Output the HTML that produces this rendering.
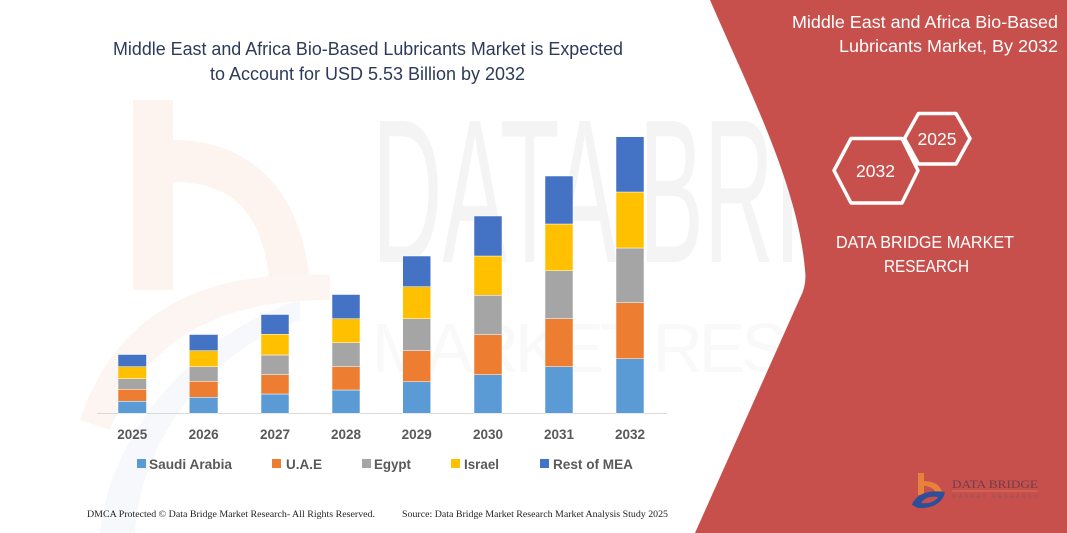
<!DOCTYPE html>
<html>
<head>
<meta charset="utf-8">
<style>
html,body{margin:0;padding:0;background:#fff;}
svg{display:block;}
</style>
</head>
<body>
<svg width="1067" height="533" viewBox="0 0 1067 533" xmlns="http://www.w3.org/2000/svg">
  <rect x="0" y="0" width="1067" height="533" fill="#ffffff"/>

  <!-- faint watermark: orange b logo -->
  <g>
    <rect x="133" y="100" width="40" height="190" fill="#fdf4f0"/>
    <path d="M173,140 C250,140 305,190 310,290 L270,290 C265,215 235,182 173,182 Z" fill="#fdf4f0"/>
    <path d="M80,420 C120,300 220,270 330,275 L330,300 C230,300 150,330 110,430 Z" fill="#fcf5f2"/>
    <path d="M100,533 C110,430 200,330 300,300 L300,320 C210,350 140,440 135,533 Z" fill="#f7f8fb"/>
  </g>
  <!-- faint watermark: DATA BRIDGE letters -->
  <text x="372" y="262" font-family="Liberation Sans, sans-serif" font-size="205" fill="#f4f4f4" textLength="640" lengthAdjust="spacingAndGlyphs">DATA BRIDGE</text>
  <text x="372" y="372" font-family="Liberation Sans, sans-serif" font-size="70" fill="#f9f9f9" textLength="640" lengthAdjust="spacing">MARKET RESEARCH</text>

  <!-- red panel -->
  <path d="M710,0 C748,88 798,185 805,270 Q807,285 800,298 L695,533 L1067,533 L1067,0 Z" fill="#c8504c"/>

  <!-- main title -->
  <text x="113" y="55" font-family="Liberation Sans, sans-serif" font-size="18" fill="#2e3a59" textLength="510" lengthAdjust="spacingAndGlyphs">Middle East and Africa Bio-Based Lubricants Market is Expected</text>
  <text x="210" y="80" font-family="Liberation Sans, sans-serif" font-size="18" fill="#2e3a59" textLength="315" lengthAdjust="spacingAndGlyphs">to Account for USD 5.53 Billion by 2032</text>

  <!-- axis line -->
  <line x1="97" y1="413.5" x2="667" y2="413.5" stroke="#d9d9d9" stroke-width="1"/>

  <!-- bars -->
  <g stroke="#ffffff" stroke-width="0.5">
    <rect x="118" y="401.3" width="28.5" height="12" fill="#5b9bd5"/>
    <rect x="118" y="389.3" width="28.5" height="12" fill="#ed7d31"/>
    <rect x="118" y="378.7" width="28.5" height="10.6" fill="#a5a5a5"/>
    <rect x="118" y="366.7" width="28.5" height="12" fill="#ffc000"/>
    <rect x="118" y="354.5" width="28.5" height="12.2" fill="#4472c4"/>

    <rect x="189.3" y="397.3" width="28.7" height="16" fill="#5b9bd5"/>
    <rect x="189.3" y="381.3" width="28.7" height="16" fill="#ed7d31"/>
    <rect x="189.3" y="366.7" width="28.7" height="14.6" fill="#a5a5a5"/>
    <rect x="189.3" y="350.7" width="28.7" height="16" fill="#ffc000"/>
    <rect x="189.3" y="334.5" width="28.7" height="16.2" fill="#4472c4"/>

    <rect x="261" y="394" width="28" height="19.3" fill="#5b9bd5"/>
    <rect x="261" y="374.7" width="28" height="19.3" fill="#ed7d31"/>
    <rect x="261" y="355" width="28" height="19.7" fill="#a5a5a5"/>
    <rect x="261" y="334.3" width="28" height="20.7" fill="#ffc000"/>
    <rect x="261" y="314.5" width="28" height="19.8" fill="#4472c4"/>

    <rect x="332" y="390" width="28" height="23.3" fill="#5b9bd5"/>
    <rect x="332" y="366.7" width="28" height="23.3" fill="#ed7d31"/>
    <rect x="332" y="342.7" width="28" height="24" fill="#a5a5a5"/>
    <rect x="332" y="318.7" width="28" height="24" fill="#ffc000"/>
    <rect x="332" y="294.5" width="28" height="24.2" fill="#4472c4"/>

    <rect x="402.7" y="381.7" width="28" height="31.6" fill="#5b9bd5"/>
    <rect x="402.7" y="350.7" width="28" height="31" fill="#ed7d31"/>
    <rect x="402.7" y="318.7" width="28" height="32" fill="#a5a5a5"/>
    <rect x="402.7" y="286.7" width="28" height="32" fill="#ffc000"/>
    <rect x="402.7" y="256" width="28" height="30.7" fill="#4472c4"/>

    <rect x="474" y="374.7" width="28" height="38.6" fill="#5b9bd5"/>
    <rect x="474" y="334.7" width="28" height="40" fill="#ed7d31"/>
    <rect x="474" y="295.3" width="28" height="39.4" fill="#a5a5a5"/>
    <rect x="474" y="256" width="28" height="39.3" fill="#ffc000"/>
    <rect x="474" y="216" width="28" height="40" fill="#4472c4"/>

    <rect x="545" y="366.7" width="28" height="46.6" fill="#5b9bd5"/>
    <rect x="545" y="318.7" width="28" height="48" fill="#ed7d31"/>
    <rect x="545" y="270.7" width="28" height="48" fill="#a5a5a5"/>
    <rect x="545" y="224" width="28" height="46.7" fill="#ffc000"/>
    <rect x="545" y="176" width="28" height="48" fill="#4472c4"/>

    <rect x="616" y="358.7" width="28" height="54.6" fill="#5b9bd5"/>
    <rect x="616" y="302.7" width="28" height="56" fill="#ed7d31"/>
    <rect x="616" y="248" width="28" height="54.7" fill="#a5a5a5"/>
    <rect x="616" y="192" width="28" height="56" fill="#ffc000"/>
    <rect x="616" y="136.7" width="28" height="55.3" fill="#4472c4"/>
  </g>

  <!-- x labels -->
  <g font-family="Liberation Sans, sans-serif" font-size="13.5" font-weight="bold" fill="#595959" text-anchor="middle">
    <text x="132.3" y="439">2025</text>
    <text x="203.6" y="439">2026</text>
    <text x="275" y="439">2027</text>
    <text x="346" y="439">2028</text>
    <text x="416.7" y="439">2029</text>
    <text x="488" y="439">2030</text>
    <text x="559" y="439">2031</text>
    <text x="630" y="439">2032</text>
  </g>

  <!-- legend -->
  <g font-family="Liberation Sans, sans-serif" font-size="13.5" font-weight="bold" fill="#595959">
    <rect x="137" y="459" width="9" height="9" fill="#5b9bd5"/>
    <text x="149" y="469" textLength="83" lengthAdjust="spacingAndGlyphs">Saudi Arabia</text>
    <rect x="272" y="459" width="9" height="9" fill="#ed7d31"/>
    <text x="286" y="469" textLength="36" lengthAdjust="spacingAndGlyphs">U.A.E</text>
    <rect x="362" y="459" width="9" height="9" fill="#a5a5a5"/>
    <text x="374" y="469" textLength="37" lengthAdjust="spacingAndGlyphs">Egypt</text>
    <rect x="451" y="459" width="9" height="9" fill="#ffc000"/>
    <text x="464" y="469" textLength="35" lengthAdjust="spacingAndGlyphs">Israel</text>
    <rect x="540" y="459" width="9" height="9" fill="#4472c4"/>
    <text x="553" y="469" textLength="80" lengthAdjust="spacingAndGlyphs">Rest of MEA</text>
  </g>

  <!-- footer -->
  <text x="87" y="517" font-family="Liberation Serif, serif" font-size="9" fill="#222" textLength="288" lengthAdjust="spacingAndGlyphs">DMCA Protected © Data Bridge Market Research- All Rights Reserved.</text>
  <text x="402" y="517" font-family="Liberation Serif, serif" font-size="9" fill="#222" textLength="266" lengthAdjust="spacingAndGlyphs">Source: Data Bridge Market Research Market Analysis Study 2025</text>

  <!-- right panel title -->
  <g font-family="Liberation Sans, sans-serif" font-size="17.5" fill="#ffffff">
    <text x="792" y="28" textLength="266" lengthAdjust="spacingAndGlyphs">Middle East and Africa Bio-Based</text>
    <text x="839" y="52" textLength="219" lengthAdjust="spacingAndGlyphs">Lubricants Market, By 2032</text>
  </g>

  <!-- hexagons -->
  <g fill="none" stroke="#ffffff" stroke-width="3.5" stroke-linejoin="round">
    <polygon points="834,170.5 851,138.5 902,138.5 918,170.5 902,203 851,203"/>
    <polygon points="904.5,138.5 918.5,113.5 956,113.5 970,138.5 956,164 918.5,164"/>
  </g>
  <g font-family="Liberation Sans, sans-serif" font-size="17.5" fill="#ffffff" text-anchor="middle">
    <text x="875.5" y="177">2032</text>
    <text x="937" y="145">2025</text>
  </g>

  <g font-family="Liberation Sans, sans-serif" font-size="17.5" fill="#ffffff">
    <text x="836" y="248" textLength="178" lengthAdjust="spacingAndGlyphs">DATA BRIDGE MARKET</text>
    <text x="884" y="272" textLength="85" lengthAdjust="spacingAndGlyphs">RESEARCH</text>
  </g>

  <!-- bottom logo -->
  <g>
    <rect x="918" y="473" width="6" height="22" fill="#e8823a"/>
    <path d="M924,481 C936,481 943,488 942,495 L936,495 C936,490 931,486 924,486 Z" fill="#e8823a"/>
    <path d="M912,505 C916,493 930,490 945,492 C943,503 932,509 918,508 Z" fill="#2d4f9a"/>
    <path d="M921,503 C925,497 932,496 938,497 C936,501 930,504 921,503 Z" fill="#c8504c"/>
    <text x="952" y="488" font-family="Liberation Serif, serif" font-size="12" fill="#6e3e4a" textLength="86" lengthAdjust="spacingAndGlyphs">DATA BRIDGE</text>
    <line x1="952" y1="491" x2="1038" y2="491" stroke="#e07a50" stroke-width="0.8"/>
    <text x="952" y="498" font-family="Liberation Sans, sans-serif" font-size="5" fill="#8a5560" textLength="86" lengthAdjust="spacing">MARKET RESEARCH</text>
  </g>
</svg>
</body>
</html>
